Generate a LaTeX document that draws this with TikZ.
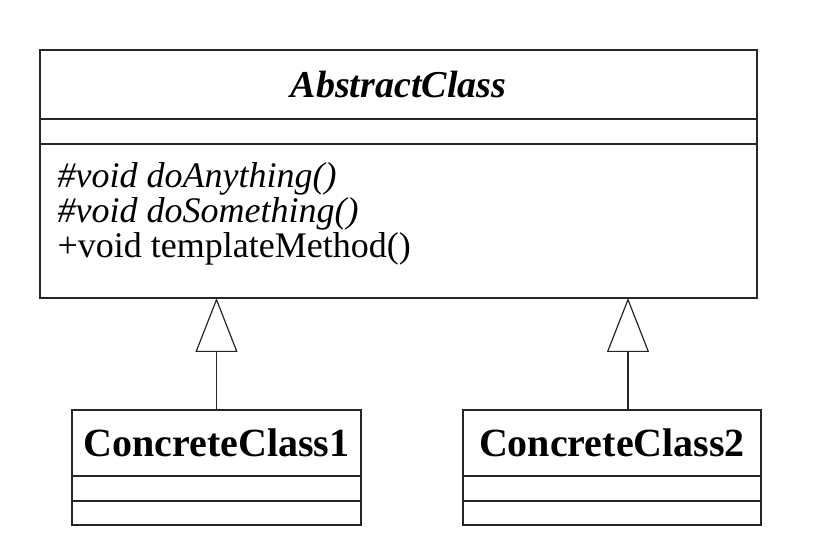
\documentclass[tikz,border=0pt]{standalone}
\usepackage{fontspec}
\setmainfont{Liberation Serif}
\usetikzlibrary{arrows.meta, positioning}
\tikzset{
    cls/.style={
        rectangle, draw=black!85, line width=1.3pt,
        inner sep=0pt, outer sep=0pt,
        minimum width=717pt
    },
    ccls/.style={
        cls,
        minimum width=290pt
    },
    inherit/.style={
        draw=black!85, line width=1.2pt,
        -{Triangle[open, length=54pt, width=42pt, line width=1.2pt]},
    },
}

\begin{document}
\begin{tikzpicture}[x=1pt, y=-1pt]
        \useasboundingbox (0,0) rectangle (825,537);

        \node[cls, minimum height=69pt] (abs) at (398.5,84.5)
            {\fontsize{38}{40}\selectfont\bfseries\itshape AbstractClass};
        \node[cls, minimum height=25pt, below=0pt of abs] (absattr) {};
        \node[cls, minimum height=154pt, below=0pt of absattr] (absops) {};
        \node[anchor=west, align=left, font=\fontsize{36}{35}\selectfont]
            (ops) at ([xshift=14pt, yshift=7pt]absops.west)
            {\itshape\#void doAnything()\\
             \itshape\#void doSomething()\\
             +void templateMethod()};

        \node[ccls, minimum width=289pt, minimum height=66pt] (c1) at (216.5,443)
            {\fontsize{40}{40}\selectfont\bfseries ConcreteClass1};
        \node[ccls, minimum width=289pt, minimum height=25pt, below=0pt of c1] (c1attr) {};
        \node[ccls, minimum width=289pt, minimum height=24pt, below=0pt of c1attr] (c1ops) {};

        \node[ccls, minimum width=298pt, minimum height=66pt] (c2) at (612,443)
            {\fontsize{40}{40}\selectfont\bfseries ConcreteClass2};
        \node[ccls, minimum width=298pt, minimum height=25pt, below=0pt of c2] (c2attr) {};
        \node[ccls, minimum width=298pt, minimum height=24pt, below=0pt of c2attr] (c2ops) {};

        \draw[inherit] (c1.north) -- (c1.north |- absops.south);
        \draw[inherit] ([xshift=16pt]c2.north) -- ([xshift=16pt]c2.north |- absops.south);
    \end{tikzpicture}
\end{document}
